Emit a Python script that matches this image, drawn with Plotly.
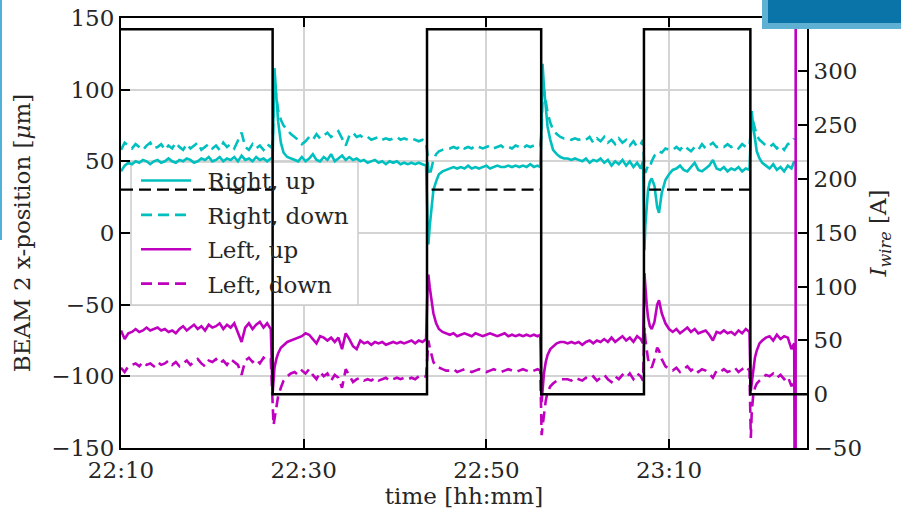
import pandas as pd
import plotly.graph_objects as go

# ---------------- data (minutes after 22:10) ----------------
start_time = pd.Timestamp("2015-06-01 22:10:00")

minutes = [
    0, 0.4, 0.8, 1.2, 1.6, 2.0, 2.4, 2.8, 3.2, 3.6, 4.0, 4.4, 4.8, 5.2, 5.6, 6.0, 6.4, 6.8, 7.2, 7.6, 8.0,
    8.4, 8.8, 9.2, 9.6, 10.0, 10.4, 10.8, 11.2, 11.6, 12.0, 12.4, 12.8, 13.2, 13.6, 14.0, 14.4, 14.8, 15.2,
    15.6, 16.0, 16.4,
    16.6, 16.7, 16.8, 17.0, 17.2, 17.5, 17.8, 18.2, 18.6,
    19.0, 19.4, 19.8, 20.2, 20.6, 21.0, 21.4, 21.8, 22.2, 22.6, 23.0, 23.4, 23.8, 24.2, 24.6, 25.0, 25.4,
    25.8, 26.2, 26.6, 27.0, 27.4, 27.8, 28.2, 28.6, 29.0, 29.4, 29.8, 30.2, 30.6, 31.0, 31.4, 31.8, 32.2,
    32.6, 33.0, 33.4,
    33.55, 33.65, 33.8, 34.0, 34.2, 34.5, 34.8, 35.2, 35.6,
    36.0, 36.4, 36.8, 37.2, 37.6, 38.0, 38.4, 38.8, 39.2, 39.6, 40.0, 40.4, 40.8, 41.2, 41.6, 42.0, 42.4,
    42.8, 43.2, 43.6, 44.0, 44.4, 44.8, 45.2, 45.6, 45.9,
    46.05, 46.15, 46.3, 46.5, 46.7, 47.0, 47.3, 47.7, 48.1, 48.5,
    48.9, 49.3, 49.7, 50.1, 50.5, 50.9, 51.3, 51.7, 52.1, 52.5, 52.9, 53.3, 53.7, 54.1, 54.5, 54.9, 55.3,
    55.7, 56.1, 56.5, 56.9, 57.15,
    57.3, 57.4, 57.55, 57.7, 57.9, 58.1, 58.4, 58.7, 58.9, 59.2, 59.6, 60.0,
    60.4, 60.8, 61.2, 61.6, 62.0, 62.4, 62.8, 63.2, 63.6, 64.0, 64.4, 64.8, 65.2, 65.6, 66.0, 66.4, 66.8,
    67.2, 67.6, 68.0, 68.4, 68.8,
    68.95, 69.05, 69.2, 69.4, 69.6, 69.9, 70.2, 70.6, 71.0,
    71.4, 71.8, 72.2, 72.6, 73.0, 73.4, 73.7,
    73.85, 73.87,
]

right_up = [
    43, 47, 49, 48, 50, 49, 51, 50, 48, 50, 51, 49, 50, 52, 50, 49, 51, 50, 52, 51, 49,
    50, 52, 51, 53, 50, 51, 53, 50, 52, 51, 53, 50, 54, 51, 52, 50, 53, 51, 52, 50, 52,
    52, 90, 115, 96, 78, 63, 56, 53, 52,
    51, 50, 53, 50, 52, 55, 51, 50, 53, 51, 55, 50, 52, 54, 51, 53, 51, 52, 50, 51,
    49, 50, 51, 49, 50, 48, 50, 49, 50, 48, 49, 48, 49, 48, 49, 48, 47,
    10, -8, 5, 20, 30, 36, 41, 43, 44,
    45, 46, 45, 46, 45, 47, 45, 46, 45, 46, 47, 45, 46, 47, 46, 46, 47, 46, 47, 46, 47, 46, 48, 46, 47, 46,
    80, 118, 102, 86, 74, 65, 58, 55, 53, 52,
    52, 51, 52, 51, 50, 52, 49, 51, 50, 52, 49, 51, 47, 50, 48, 51, 47, 50, 46, 49, 45, 50,
    -12, 5, 22, 30, 36, 38, 33, 18, 14, 28, 37, 41,
    44, 45, 47, 44, 43, 46, 49, 44, 43, 45, 47, 51, 45, 44, 46, 43, 45, 44, 46, 43, 45, 44,
    70, 85, 75, 64, 57, 52, 49, 47, 45,
    48, 44, 46, 43, 47, 45, 50,
    None, None,
]

right_down = [
    58, 63, 61, 59, 62, 60, 58, 61, 63, 59, 60, 62, 58, 61, 59, 63, 60, 58, 62, 59, 61,
    63, 58, 60, 62, 59, 61, 58, 63, 60, 62, 59, 64, 70, 60, 58, 62, 59, 61, 58, 62, 60,
    62, 85, 104, 95, 86, 79, 75, 72, 69,
    67, 65, 62, 64, 67, 65, 69, 66, 68, 70, 67, 69, 71, 66, 61, 68, 70, 67, 68, 66,
    67, 65, 66, 67, 65, 66, 65, 66, 67, 65, 66, 65, 66, 65, 64, 65, 63,
    55, 44, 40, 46, 51, 55, 57, 58, 59,
    59, 60, 59, 61, 59, 60, 59, 61, 60, 59, 60, 61, 59, 60, 61, 59, 60, 59, 61, 60, 59, 61, 60, 61, 60, 61,
    70, 95, 100, 92, 84, 77, 72, 69, 67, 66,
    66, 65, 66, 65, 66, 65, 67, 63, 66, 64, 67, 63, 65, 62, 66, 63, 65, 61, 64, 60, 62, 65,
    44, 42, 45, 47, 46, 50, 54, 55, 57, 56, 59, 58,
    58, 60, 58, 61, 59, 57, 60, 58, 62, 59, 61, 63, 60, 61, 60, 62, 60, 61, 59, 62, 60, 61,
    70, 82, 78, 73, 68, 65, 63, 61, 60,
    62, 59, 61, 58, 62, 63, 66,
    None, None,
]

left_up = [
    -68, -74, -70, -69, -67, -69, -68, -66, -68, -67, -66, -68, -67, -69, -68, -70, -67, -65, -68, -66, -64,
    -67, -65, -68, -64, -66, -65, -63, -67, -64, -66, -63, -70, -76, -66, -63, -67, -64, -62, -66, -63, -67,
    -112, -102, -94, -88, -84, -80, -78, -76, -75,
    -74, -73, -72, -70, -71, -74, -77, -72, -73, -75, -73, -76, -73, -81, -70, -74, -79, -81, -75, -77,
    -76, -78, -76, -77, -76, -78, -77, -76, -77, -76, -77, -76, -75, -77, -75, -76, -74,
    -40, -29, -38, -48, -56, -63, -67, -69, -70,
    -71, -70, -72, -71, -70, -71, -72, -70, -71, -72, -71, -70, -71, -72, -71, -70, -72, -71, -72, -71,
    -72, -71, -72, -71, -72, -71,
    -118, -108, -98, -90, -85, -81, -79, -77, -76, -76,
    -77, -76, -77, -76, -78, -76, -75, -77, -75, -76, -74, -76, -73, -76, -74, -72, -75, -73, -76, -72, -74, -77,
    -28, -38, -50, -59, -65, -67, -62, -50, -47, -56, -63, -67,
    -69, -67, -70, -68, -66, -69, -67, -70, -69, -68, -71, -75, -69, -70, -68, -70, -69, -71, -68, -70, -67, -69,
    -110, -104, -95, -87, -82, -77, -75, -73, -72,
    -75, -71, -74, -72, -73, -81, -77,
    -400, 400,
]

left_down = [
    -94, -97, -93, -92, -91, -93, -90, -92, -91, -93, -90, -92, -91, -89, -92, -90, -93, -91, -89, -92, -90,
    -88, -91, -93, -89, -90, -88, -91, -89, -92, -88, -90, -92, -99, -89, -87, -90, -88, -91, -87, -89, -88,
    -115, -134, -130, -122, -114, -108, -103, -100, -98,
    -97, -99, -96, -98, -95, -99, -102, -97, -100, -98, -103, -99, -101, -108, -95, -100, -104, -102, -101,
    -103, -102, -103, -101, -103, -102, -101, -103, -102, -101, -102, -101, -102, -101, -102, -100, -101, -100,
    -85, -75, -80, -86, -90, -93, -94, -95, -96,
    -96, -95, -97, -96, -95, -96, -97, -96, -95, -96, -97, -96, -95, -96, -97, -96, -95, -96, -97, -96,
    -95, -96, -97, -96, -95, -96,
    -141, -135, -126, -117, -111, -107, -105, -103, -102, -102,
    -102, -103, -101, -102, -103, -101, -102, -100, -103, -101, -99, -102, -104, -100, -102, -99, -101, -98,
    -102, -98, -100, -103,
    -66, -74, -82, -88, -92, -94, -88, -80, -82, -88, -93, -95,
    -96, -94, -97, -95, -93, -96, -94, -97, -95, -96, -98, -101, -96, -97, -95, -97, -96, -94, -97, -95, -93, -96,
    -143, -125, -114, -108, -105, -103, -101, -99, -100,
    -98, -101, -99, -102, -100, -107, -101,
    None, None,
]

# wire current (A): change points of the step signal
wire_minutes = [0, 16.6, 33.5, 46.0, 57.25, 68.9, 75.1]
wire_current = [339, 0, 339, 0, 339, 0, 0]

# reference level during powered periods
ref_minutes = [0, 16.6, 16.6, 34.0, 46.0, 46.0, 57.8, 68.9]
ref_current = [190, 190, None, 190, 190, None, 190, 190]

for s in (right_up, right_down, left_up, left_down):
    assert len(s) == len(minutes)


def to_time(ms):
    return [(start_time + pd.Timedelta(seconds=round(m * 60, 3))).strftime("%Y-%m-%d %H:%M:%S.%f")[:-3]
            for m in ms]


t = to_time(minutes)

CYAN = "#00bfbf"
MAG = "#bf00bf"
FONT = "DejaVu Serif"
TXT = "#262626"
FS = 23
SP = "\u2002"

fig = go.Figure()
fig.add_trace(go.Scatter(x=t, y=right_up, name=SP + "Right, up", mode="lines", legendgroup="a",
                         line=dict(color=CYAN, width=2.6)))
fig.add_trace(go.Scatter(x=t, y=right_down, name=SP + "Right, down", mode="lines", legendgroup="b",
                         line=dict(color=CYAN, width=2.6, dash="11px,6px")))
fig.add_trace(go.Scatter(x=t, y=left_up, name=SP + "Left, up", mode="lines", legendgroup="c",
                         line=dict(color=MAG, width=2.6)))
fig.add_trace(go.Scatter(x=t, y=left_down, name=SP + "Left, down", mode="lines", legendgroup="d",
                         line=dict(color=MAG, width=2.6, dash="11px,6px")))
fig.add_trace(go.Scatter(x=to_time(wire_minutes), y=wire_current, yaxis="y2", mode="lines",
                         line=dict(color="black", width=2.5, shape="hv"), showlegend=False))
fig.add_trace(go.Scatter(x=to_time(ref_minutes), y=ref_current, yaxis="y2", mode="lines",
                         line=dict(color="black", width=2.2, dash="12px,6px"), showlegend=False,
                         connectgaps=False))

L, R, T, B = 121, 807, 18, 448
W, H = 901, 514
pw, ph = R - L, B - T
X_SPAN_MIN = 75.1


def px(x):
    return (x - L) / pw


def py(y):
    return (B - y) / ph


def px_to_time(x):
    return to_time([(x - L) / pw * X_SPAN_MIN])[0]


def py_to_val(y):
    return 150 - (y - T) / ph * 300


axis_common = dict(
    ticks="inside", ticklen=9, tickwidth=1.5, tickcolor="black",
    showline=True, linecolor="black", linewidth=2,
    tickfont=dict(family=FONT, size=FS, color=TXT),
    title_font=dict(family=FONT, size=FS, color=TXT),
    zeroline=False, automargin=False,
)

fig.update_layout(
    width=W, height=H,
    margin=dict(l=L, r=W - R, t=T, b=H - B, pad=0, autoexpand=False),
    paper_bgcolor="white", plot_bgcolor="white",
    font=dict(family=FONT, size=FS, color=TXT),
    xaxis=dict(
        type="date",
        range=[to_time([0])[0], to_time([X_SPAN_MIN])[0]],
        tick0=to_time([0])[0], dtick=20 * 60 * 1000, tickformat="%H:%M",
        showgrid=True, gridcolor="#d4d4d4", gridwidth=1.5,
        mirror="ticks",
        title=dict(text="time [hh:mm]", standoff=6),
        **axis_common,
    ),
    yaxis=dict(
        range=[-150, 150], dtick=50,
        showgrid=True, gridcolor="#d4d4d4", gridwidth=1.5,
        title=dict(text="BEAM 2 x-position [<i>μ</i>m]", standoff=14),
        **axis_common,
    ),
    yaxis2=dict(
        overlaying="y", side="right",
        range=[-50, 349.5], dtick=50, tick0=0,
        showgrid=False,
        title=dict(text="<i>I</i><sub><i>wire</i></sub> [A]", standoff=9),
        **axis_common,
    ),
    legend=dict(
        x=px(136), y=py(159), xanchor="left", yanchor="top",
        bgcolor="rgba(0,0,0,0)", borderwidth=0,
        font=dict(family=FONT, size=FS, color=TXT),
        itemwidth=50, tracegroupgap=1.5,
    ),
    shapes=[
        # legend frame (covers grid, lies under the lines)
        dict(type="rect", xref="x", yref="y", layer="between",
             x0=px_to_time(131), x1=px_to_time(358), y0=py_to_val(305), y1=py_to_val(162),
             fillcolor="white", line=dict(color="#cccccc", width=1.5)),
        # slide decoration, top right
        dict(type="rect", xref="paper", yref="paper", layer="above",
             x0=px(762), x1=px(903), y0=py(29), y1=py(-2),
             fillcolor="#5fb1d4", line=dict(width=0)),
        dict(type="rect", xref="paper", yref="paper", layer="above",
             x0=px(768), x1=px(903), y0=py(23), y1=py(-2),
             fillcolor="#0a74a8", line=dict(width=0)),
        # slide decoration, left edge
        dict(type="rect", xref="paper", yref="paper", layer="above",
             x0=px(-1), x1=px(2), y0=py(240), y1=py(-2),
             fillcolor="#4fb0d8", line=dict(width=0)),
    ],
)

fig.write_html("out.html")
